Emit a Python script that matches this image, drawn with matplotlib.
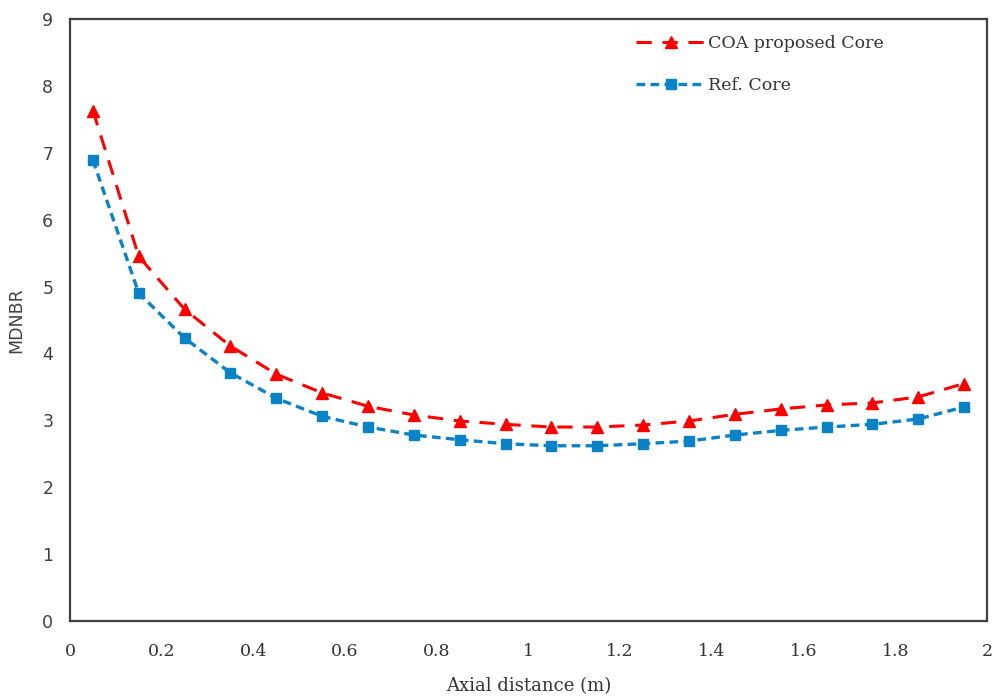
import matplotlib
matplotlib.use("Agg")
import matplotlib.pyplot as plt

x = [0.05, 0.15, 0.25, 0.35, 0.45, 0.55, 0.65, 0.75, 0.85, 0.95,
     1.05, 1.15, 1.25, 1.35, 1.45, 1.55, 1.65, 1.75, 1.85, 1.95]
coa = [7.63, 5.45, 4.66, 4.11, 3.69, 3.41, 3.21, 3.08, 2.99, 2.94,
       2.90, 2.90, 2.93, 2.99, 3.09, 3.17, 3.23, 3.26, 3.35, 3.55]
ref = [6.89, 4.90, 4.23, 3.71, 3.33, 3.06, 2.90, 2.78, 2.71, 2.65,
       2.62, 2.62, 2.65, 2.69, 2.78, 2.85, 2.90, 2.94, 3.02, 3.20]
xticks = [0, 0.2, 0.4, 0.6, 0.8, 1, 1.2, 1.4, 1.6, 1.8, 2]
xticklabels = ["0", "0.2", "0.4", "0.6", "0.8", "1", "1.2", "1.4", "1.6", "1.8", "2"]
yticks = list(range(0, 10))

fig = plt.figure(figsize=(9.97, 6.99), dpi=100)
ax = fig.add_axes([0.0702, 0.1116, 0.9198, 0.8612])

ax.plot(x, coa, color="#ff0000", linestyle=(0, (5, 3.5)), linewidth=2.2,
        marker="^", markersize=8.5, label="COA proposed Core")
ax.plot(x, ref, color="#0a82c8", linestyle=(0, (2.6, 1.6)), linewidth=2.4,
        marker="s", markersize=7.5, label="Ref. Core")

ax.set_xlim(0, 2)
ax.set_ylim(0, 9)
ax.set_xticks(xticks)
ax.set_xticklabels(xticklabels, family="DejaVu Serif", fontsize=12.5, color="#333333")
ax.set_yticks(yticks)
ax.set_yticklabels([str(v) for v in yticks], family="DejaVu Sans", fontsize=12.5, color="#404040")
ax.tick_params(axis="x", length=0, pad=16)
ax.tick_params(axis="y", length=0, pad=12)
for s in ax.spines.values():
    s.set_color("#404040")
    s.set_linewidth(1.6)

ax.set_xlabel("Axial distance (m)", family="DejaVu Serif", fontsize=13, color="#333333", labelpad=12)
ax.set_ylabel("MDNBR", family="DejaVu Sans", fontsize=12.5, color="#404040", labelpad=12)

leg = ax.legend(loc="upper left", bbox_to_anchor=(0.6, 1.0), frameon=False,
                prop={"family": "DejaVu Serif", "size": 12.5}, labelspacing=1.45,
                handlelength=4.0, handletextpad=0.15)
for t in leg.get_texts():
    t.set_color("#333333")

fig.savefig("out.png", dpi=100)
